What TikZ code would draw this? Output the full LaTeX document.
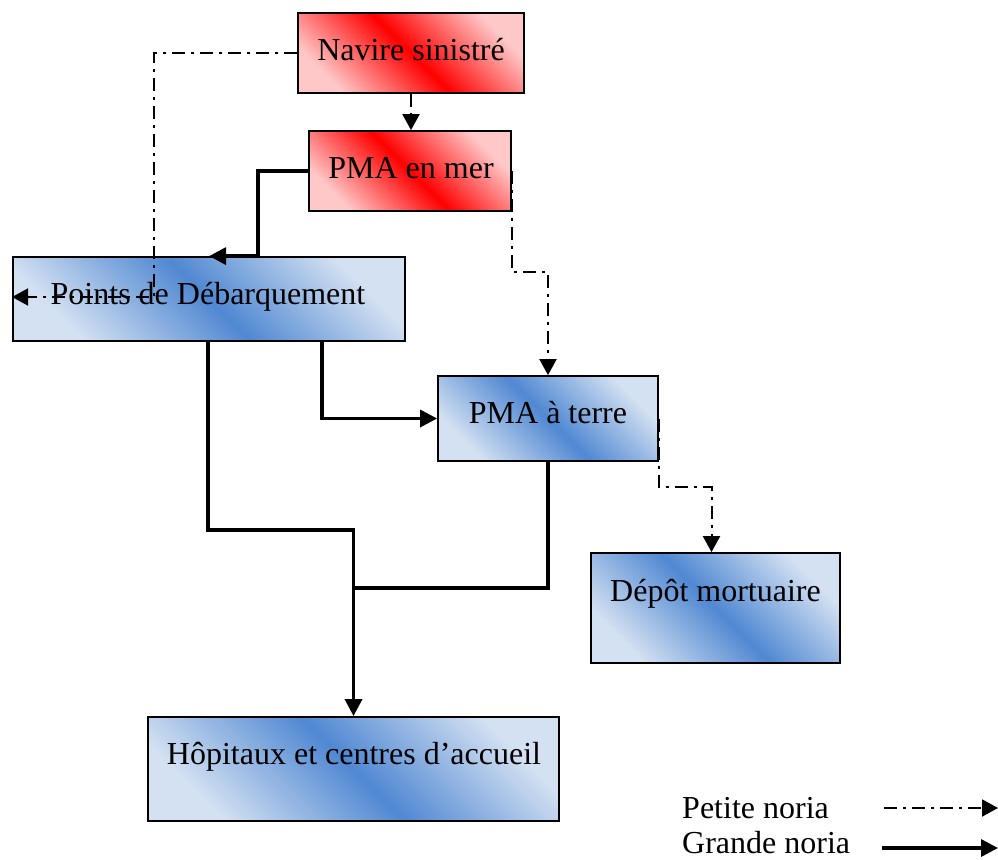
\documentclass[tikz,border=0pt]{standalone}
\usepackage{fontspec}
\setmainfont{Liberation Serif}
\usetikzlibrary{arrows.meta,calc}
\definecolor{redlight}{RGB}{255,200,200}
\definecolor{redmid}{RGB}{255,0,0}
\definecolor{bluelight}{RGB}{212,225,242}
\definecolor{bluemid}{RGB}{80,136,210}
\tikzset{
  box/.style={draw=black, line width=1.8pt, rectangle, inner sep=0pt},
  redbox/.style={box, top color=redlight, bottom color=redlight, middle color=redmid,
    shading angle=-45},
  bluebox/.style={box, top color=bluelight, bottom color=bluelight, middle color=bluemid,
    shading angle=-45},
  lbl/.style={anchor=base, inner sep=0pt, font=\fontsize{32}{38}\selectfont},
  petite/.style={line width=2pt, dash pattern=on 13pt off 6pt on 3pt off 6pt,
    -{Triangle[length=16pt,width=17pt]}},
  grande/.style={line width=3.4pt, -{Triangle[length=17pt,width=17pt]}},
  plain/.style={line width=3.4pt},
}
\begin{document}
\begin{tikzpicture}[x=1pt,y=-1pt]
\useasboundingbox (0,0) rectangle (998,859);

% boxes
\node[redbox, minimum width=226pt, minimum height=80pt] (navire) at (411,53) {};
\node[redbox, minimum width=202pt, minimum height=80pt] (pmamer) at (410,171) {};
\node[bluebox, minimum width=392pt, minimum height=84pt] (points) at (209,299) {};
\node[bluebox, minimum width=220pt, minimum height=85pt] (pmaterre) at (548,418.5) {};
\node[bluebox, minimum width=249pt, minimum height=110pt] (depot) at (715.5,608) {};
\node[bluebox, minimum width=411pt, minimum height=104pt] (hop) at (353.5,769) {};

% box texts
\node[lbl] (navireT) at (411,61) {Navire sinistré};
\node[lbl] (pmamerT) at (411,178) {PMA en mer};
\node[lbl] (pointsT) at (208,304) {Points de Débarquement};
\node[lbl] (pmaterreT) at (548,423) {PMA à terre};
\node[lbl] (depotT) at (715.5,601) {Dépôt mortuaire};
\node[lbl] (hopT) at (354,764) {Hôpitaux et centres d’accueil};

% attachment points
\coordinate (landing) at ($(points.north west)+(197,0)$);
\coordinate (ptsA) at ($(points.south west)+(196,0)$);
\coordinate (ptsB) at ($(points.south west)+(310,0)$);
\coordinate (merge) at ($(hop.north)+(0,-128)$);
\coordinate (depotIn) at ($(depot.north)+(-4,0)$);

% petite noria
\draw[petite] (navire.west) -- ++(-143,0) |- ($(points.west)+(0,-2)$);
\draw[petite] (navire.south) -- (navire.south |- pmamer.north);
\draw[petite] (pmamer.east) -- ++(0,101) -| (pmaterre.north);
\draw[petite] (pmaterre.east) -- ++(0,68) -| (depotIn);

% grande noria
\draw[grande] (pmamer.west) -- ++(-50,0) |- (landing);
\draw[grande] (ptsB) |- (pmaterre.west);
\draw[grande] (ptsA) -- ++(0,188) -| (hop.north);
\draw[plain] (pmaterre.south) |- (merge);

% legend
\node[lbl, anchor=base west] (petiteT) at (682,818) {Petite noria};
\node[lbl, anchor=base west] (grandeT) at (682,853) {Grande noria};
\coordinate (pA) at (884,808);
\coordinate (pB) at (998,808);
\coordinate (gA) at (882,848);
\coordinate (gB) at (998,848);
\draw[petite] (pA) -- (pB);
\draw[grande] (gA) -- (gB);
\end{tikzpicture}
\end{document}
